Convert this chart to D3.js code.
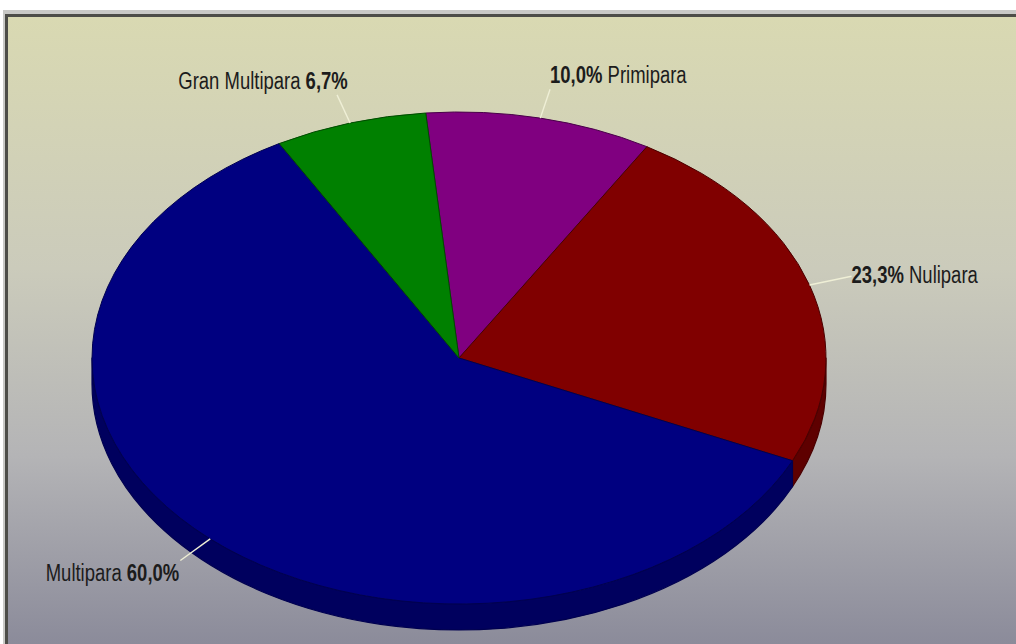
<!DOCTYPE html>
<html>
<head>
<meta charset="utf-8">
<script src="https://cdn.jsdelivr.net/npm/d3@7"></script>
<style>
  html, body { margin: 0; padding: 0; background: #ffffff; }
  svg { display: block; }
</style>
</head>
<body>
<svg id="chart" width="1016" height="644"></svg>
<script>
// Parity distribution (percent of cases)
const categories = ["Primipara", "Nulipara", "Multipara", "Gran Multipara"];
const values = [10.0, 23.3, 60.0, 6.7];
const valueFirst = [true, true, false, false];   // label reads "value name" or "name value"
const topColors = ["#800080", "#800000", "#000080", "#008000"];
const sideColors = ["#5a005a", "#5e0000", "#00005e", "#005a00"];
const edgeColors = ["#4a004a", "#4a0000", "#000050", "#004a00"];

const W = 1016, H = 644;
const svg = d3.select("#chart");

// ---- background panel with frame ----
const defs = svg.append("defs");
const bg = defs.append("linearGradient").attr("id", "bg")
  .attr("x1", 0).attr("y1", 0).attr("x2", 0).attr("y2", 1);
[[0, "#d9d9b2"], [0.4, "#cbcbbb"], [0.7, "#b4b4b6"], [1, "#8b8b9a"]]
  .forEach(([o, c]) => bg.append("stop").attr("offset", o).attr("stop-color", c));

svg.append("rect").attr("x", 3).attr("y", 10).attr("width", W - 3).attr("height", H - 10)
  .attr("fill", "#c9c9c6");
svg.append("rect").attr("x", 5).attr("y", 14).attr("width", W - 5).attr("height", H - 14)
  .attr("fill", "#4d4d48");
svg.append("rect").attr("x", 8).attr("y", 17).attr("width", W - 8).attr("height", H - 17)
  .attr("fill", "url(#bg)");

// ---- 3D pie geometry (elliptical projection) ----
const cx = 459, cy = 358, rx = 367, ry = 246, depth = 26;
const x = d3.scaleLinear().domain([-1, 1]).range([cx - rx, cx + rx]);
const y = d3.scaleLinear().domain([-1, 1]).range([cy - ry, cy + ry]);
// angle measured clockwise from 12 o'clock
const pt = (a, k = 1, dz = 0) => [x(k * Math.sin(a)), y(-k * Math.cos(a)) + dz];

const start = -5.2 * Math.PI / 180;
const pie = d3.pie().sort(null).value(d => d.v)
  .startAngle(start).endAngle(start + 2 * Math.PI);
const arcs = pie(categories.map((c, i) => ({ c, v: values[i], i })));

function arcTo(p, a0, a1, sweep, dz) {
  const [ex, ey] = pt(a1, 1, dz);
  const large = Math.abs(a1 - a0) > Math.PI ? 1 : 0;
  p.push(`A${rx},${ry} 0 ${large} ${sweep} ${ex},${ey}`);
}

function topPath(d) {
  const p = [`M${cx},${cy}`, `L${pt(d.startAngle).join(",")}`];
  arcTo(p, d.startAngle, d.endAngle, 1, 0);
  p.push("Z");
  return p.join("");
}

// visible rim: front half of the ellipse, angles in [PI/2, 3PI/2]
function sidePath(d) {
  const lo = Math.PI / 2, hi = 3 * Math.PI / 2;
  const norm = a => ((a % (2 * Math.PI)) + 2 * Math.PI) % (2 * Math.PI);
  const s = norm(d.startAngle), e = s + (d.endAngle - d.startAngle);
  const parts = [];
  [[s, e], [s - 2 * Math.PI, e - 2 * Math.PI], [s + 2 * Math.PI, e + 2 * Math.PI]].forEach(([u, v]) => {
    const s0 = Math.max(u, lo), s1 = Math.min(v, hi);
    if (s1 > s0) parts.push([s0, s1]);
  });
  return parts.map(([s0, s1]) => {
    const p = [`M${pt(s0).join(",")}`];
    arcTo(p, s0, s1, 1, 0);
    p.push(`L${pt(s1, 1, depth).join(",")}`);
    arcTo(p, s1, s0, 0, depth);
    p.push("Z");
    return p.join("");
  }).join("");
}

const g = svg.append("g");
g.selectAll("path.side").data(arcs).join("path")
  .attr("class", "side")
  .attr("d", sidePath)
  .attr("fill", d => sideColors[d.data.i])
  .attr("stroke", d => edgeColors[d.data.i])
  .attr("stroke-width", 1.2)
  .attr("stroke-linejoin", "round");

g.selectAll("path.top").data(arcs).join("path")
  .attr("class", "top")
  .attr("d", topPath)
  .attr("fill", d => topColors[d.data.i])
  .attr("stroke", d => edgeColors[d.data.i])
  .attr("stroke-width", 1)
  .attr("stroke-linejoin", "round");

// ---- leader lines and labels ----
const fmt = v => d3.format(".1f")(v).replace(".", ",") + "%";
const mid = d => (d.startAngle + d.endAngle) / 2;

const lab = svg.append("g");
arcs.forEach(d => {
  const a = mid(d);
  const c = Math.cos(a);
  const p0 = pt(a, 1.0), p1 = pt(a, 1.12);
  lab.append("line")
    .attr("x1", p0[0]).attr("y1", p0[1]).attr("x2", p1[0]).attr("y2", p1[1])
    .attr("stroke", "#efefd6").attr("stroke-width", 1.4);

  const right = Math.sin(a) >= 0;
  const tx = right ? p1[0] : p1[0] + 4 + 7 * c;
  const tyc = p1[1] - 17 * c * Math.sqrt(Math.abs(c)) + 2;
  const t = lab.append("text")
    .attr("transform", `translate(${tx},${tyc}) scale(0.77,1)`)
    .attr("text-anchor", right ? "start" : "end")
    .attr("dominant-baseline", "central")
    .attr("font-family", "'Liberation Sans', Arial, sans-serif")
    .attr("font-size", 24)
    .attr("fill", "#1c1c1c");
  const name = d.data.c, val = fmt(d.data.v);
  if (valueFirst[d.data.i]) {
    t.append("tspan").attr("font-weight", "bold").text(val);
    t.append("tspan").text(" " + name);
  } else {
    t.append("tspan").text(name + " ");
    t.append("tspan").attr("font-weight", "bold").text(val);
  }
});
</script>
</body>
</html>
